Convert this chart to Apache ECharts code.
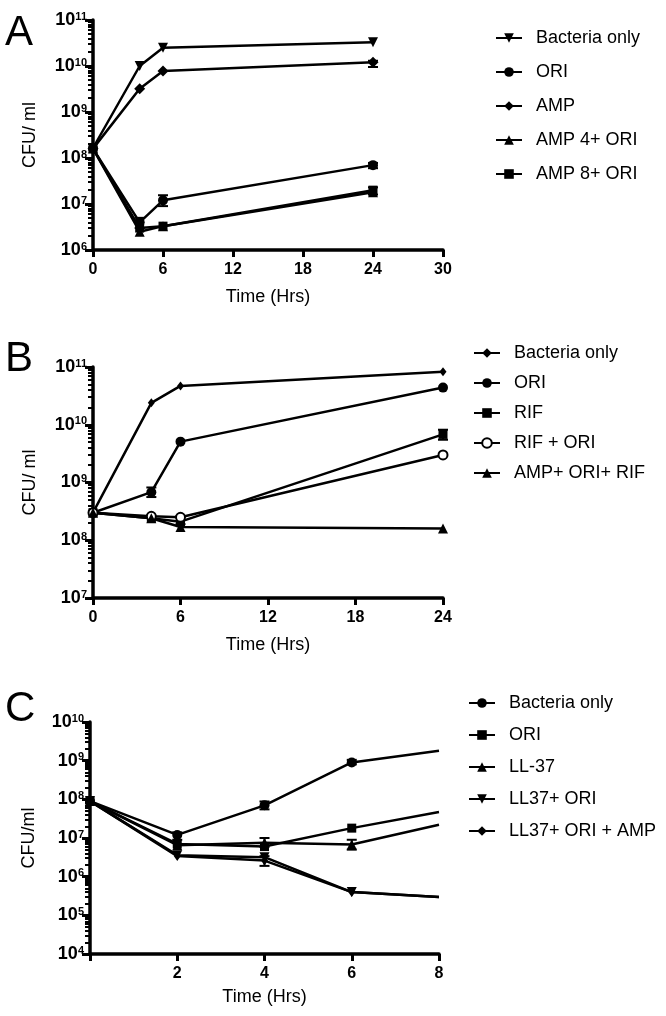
<!DOCTYPE html>
<html>
<head>
<meta charset="utf-8">
<script src="https://cdn.jsdelivr.net/npm/echarts@6/dist/echarts.min.js"></script>
<style>
  body { margin: 0; background: #fff; }
  .panel { position: absolute; left: 0; width: 666px; }
</style>
</head>
<body>
<div id="panelA" class="panel" style="top:0;height:320px"></div>
<div id="panelB" class="panel" style="top:320px;height:340px"></div>
<div id="panelC" class="panel" style="top:660px;height:356px"></div>
<script>
// ---- Panel A ----
const timesA = [0, 4, 6, 24];
const namesA = ["Bacteria only", "ORI", "AMP", "AMP 4+ ORI", "AMP 8+ ORI"];
const bacteriaA = [1.65e8, 1.0e10, 2.5e10, 3.3e10];
const oriA = [1.6e8, 4.0e6, 1.2e7, 7.0e7];
const ampA = [1.6e8, 3.2e9, 7.8e9, 1.2e10];
const amp4OriA = [1.6e8, 2.5e6, 3.3e6, 1.8e7];
const amp8OriA = [1.6e8, 3.0e6, 3.3e6, 2.0e7];
// error bars: [time, low, high]
const errA = [[4, 3.0e6, 5.0e6], [6, 0.9e7, 1.55e7], [24, 0.95e10, 1.3e10], [24, 6.0e7, 7.8e7], [24, 1.6e7, 2.3e7]];

// ---- Panel B ----
const timesB = [0, 4, 6, 24];
const namesB = ["Bacteria only", "ORI", "RIF", "RIF + ORI", "AMP+ ORI+ RIF"];
const bacteriaB = [3.0e8, 2.4e10, 4.7e10, 8.3e10];
const oriB = [3.0e8, 6.8e8, 5.1e9, 4.4e10];
const rifB = [3.0e8, 2.4e8, 2.1e8, 6.8e9];
const rifOriB = [3.0e8, 2.6e8, 2.5e8, 3.0e9];
const ampOriRifB = [3.0e8, 2.4e8, 1.7e8, 1.6e8];
const errB = [[4, 5.6e8, 8.2e8], [24, 5.5e9, 8.2e9], [6, 1.9e8, 2.6e8]];

// ---- Panel C ----
const timesC = [0, 2, 4, 6, 8];
const namesC = ["Bacteria only", "ORI", "LL-37", "LL37+ ORI", "LL37+ ORI + AMP"];
const bacteriaC = [9.0e7, 1.2e7, 7.0e7, 9.0e8, 1.8e9];
const oriC = [9.0e7, 7.0e6, 6.0e6, 1.8e7, 4.7e7];
const ll37C = [9.0e7, 6.5e6, 7.5e6, 6.8e6, 2.2e7];
const ll37OriC = [9.0e7, 3.6e6, 3.2e6, 4.0e5, 3.0e5];
const ll37OriAmpC = [9.0e7, 3.4e6, 2.6e6, 4.0e5, 3.0e5];
const errC = [[2, 0.9e7, 1.4e7], [4, 5.5e7, 8.8e7], [6, 8.0e8, 1.05e9], [6, 5.0e6, 9.0e6], [4, 1.9e6, 3.4e6], [4, 6.0e6, 1.0e7]];

const FONT = '"Liberation Sans", Arial, sans-serif';

// log minor tick positions (2..9 x each decade)
function logMinors(min, max) {
  const out = [];
  for (let d = min; d < max; d *= 10) {
    for (let k = 2; k <= 9; k++) out.push(d * k);
  }
  return out;
}

function lineSeries(name, times, vals, symbol, size, opts) {
  opts = opts || {};
  const last = times.length - 1;
  return {
    type: 'line',
    name: name,
    data: times.map((t, i) => (opts.noLastSymbol && i === last)
      ? { value: [t, vals[i]], symbol: 'none' }
      : [t, vals[i]]),
    symbol: symbol,
    symbolSize: size,
    symbolRotate: opts.rotate || 0,
    showAllSymbol: true,
    lineStyle: { color: '#000', width: 2.5 },
    itemStyle: { color: '#000', borderColor: '#000', borderWidth: symbol === 'emptyCircle' ? 1.5 : 0 },
    emphasis: { disabled: true }
  };
}

function errorSeries(err) {
  return {
    type: 'custom',
    data: err,
    silent: true,
    encode: { x: 0, y: [1, 2] },
    renderItem: function (params, api) {
      const t = api.value(0);
      const lo = api.coord([t, api.value(1)]);
      const hi = api.coord([t, api.value(2)]);
      const st = { stroke: '#000', lineWidth: 2 };
      return {
        type: 'group',
        children: [
          { type: 'line', shape: { x1: lo[0], y1: lo[1], x2: hi[0], y2: hi[1] }, style: st },
          { type: 'line', shape: { x1: lo[0] - 5, y1: lo[1], x2: lo[0] + 5, y2: lo[1] }, style: st },
          { type: 'line', shape: { x1: hi[0] - 5, y1: hi[1], x2: hi[0] + 5, y2: hi[1] }, style: st }
        ]
      };
    }
  };
}

function buildOption(p) {
  return {
    animation: false,
    textStyle: { fontFamily: FONT },
    title: {
      text: p.letter, left: 0, top: p.letterTop,
      textStyle: { fontSize: 42, fontWeight: 'normal', color: '#000', fontFamily: FONT }
    },
    grid: { left: p.grid[0], top: p.grid[1], width: p.grid[2], height: p.grid[3] },
    legend: {
      orient: 'vertical', left: p.legend[0], top: p.legend[1], itemGap: p.legend[2],
      padding: 0, itemWidth: 26, itemHeight: 12,
      textStyle: { fontSize: 18, color: '#000', fontFamily: FONT, padding: [0, 0, 0, 9] },
      selectedMode: false,
      data: p.names
    },
    xAxis: {
      type: 'value', min: 0, max: p.xMax, interval: p.xInterval,
      axisLine: { onZero: false, lineStyle: { color: '#000', width: 3.5 } },
      axisTick: { length: 7, lineStyle: { color: '#000', width: 3 } },
      splitLine: { show: false },
      axisLabel: {
        fontSize: 16, fontWeight: 'bold', color: '#000', margin: 12, fontFamily: FONT,
        formatter: v => (p.hideZero && v === 0) ? '' : String(v)
      },
      name: 'Time (Hrs)', nameLocation: 'middle', nameGap: p.xNameGap,
      nameTextStyle: { fontSize: 18, color: '#000', fontFamily: FONT }
    },
    yAxis: [{
      type: 'log', logBase: 10, min: p.yMin, max: p.yMax,
      axisLine: { show: true, onZero: false, lineStyle: { color: '#000', width: 3.5 } },
      axisTick: { show: true, length: 8, lineStyle: { color: '#000', width: 3 } },
      splitLine: { show: false },
      axisLabel: {
        margin: 6,
        formatter: v => '{b|10}{s|' + Math.round(Math.log10(v)) + '}',
        rich: {
          b: { fontSize: 18, fontWeight: 'bold', color: '#000', fontFamily: FONT, verticalAlign: 'bottom' },
          s: { fontSize: 11, fontWeight: 'bold', color: '#000', fontFamily: FONT, verticalAlign: 'top', lineHeight: 11 }
        }
      },
      name: p.yName, nameLocation: 'middle', nameGap: p.yNameGap, nameRotate: 90,
      nameTextStyle: { fontSize: 18, color: '#000', fontFamily: FONT }
    }, {
      // minor log ticks only
      type: 'log', logBase: 10, min: p.yMin, max: p.yMax, position: 'left',
      axisLine: { show: false },
      axisLabel: { show: false },
      splitLine: { show: false },
      axisTick: { show: true, length: 5, customValues: logMinors(p.yMin, p.yMax), lineStyle: { color: '#000', width: 2 } }
    }],
    series: p.series
  };
}

const chartA = echarts.init(document.getElementById('panelA'));
chartA.setOption(buildOption({
  letter: 'A', letterTop: 7,
  grid: [93, 20, 350, 230],
  legend: [495, 29, 16],
  names: namesA,
  xMax: 30, xInterval: 6, xNameGap: 38,
  yMin: 1e6, yMax: 1e11, yName: 'CFU/ ml', yNameGap: 54,
  series: [
    lineSeries(namesA[0], timesA, bacteriaA, 'triangle', 10, { rotate: 180 }),
    lineSeries(namesA[1], timesA, oriA, 'circle', 10),
    lineSeries(namesA[2], timesA, ampA, 'diamond', 11),
    lineSeries(namesA[3], timesA, amp4OriA, 'triangle', 10),
    lineSeries(namesA[4], timesA, amp8OriA, 'rect', 9),
    errorSeries(errA)
  ]
}));

const chartB = echarts.init(document.getElementById('panelB'));
chartB.setOption(buildOption({
  letter: 'B', letterTop: 13,
  grid: [93, 47, 350, 231],
  legend: [473, 24, 12],
  names: namesB,
  xMax: 24, xInterval: 6, xNameGap: 38,
  yMin: 1e7, yMax: 1e11, yName: 'CFU/ ml', yNameGap: 54,
  series: [
    lineSeries(namesB[0], timesB, bacteriaB, 'diamond', [7, 9]),
    lineSeries(namesB[1], timesB, oriB, 'circle', 10),
    lineSeries(namesB[2], timesB, rifB, 'rect', 9),
    lineSeries(namesB[3], timesB, rifOriB, 'emptyCircle', 9),
    lineSeries(namesB[4], timesB, ampOriRifB, 'triangle', 10),
    errorSeries(errB)
  ]
}));

const chartC = echarts.init(document.getElementById('panelC'));
chartC.setOption(buildOption({
  letter: 'C', letterTop: 23,
  grid: [90, 62, 349, 232],
  legend: [468, 34, 14],
  names: namesC,
  xMax: 8, xInterval: 2, xNameGap: 34, hideZero: true,
  yMin: 1e4, yMax: 1e10, yName: 'CFU/ml', yNameGap: 52,
  series: [
    lineSeries(namesC[0], timesC, bacteriaC, 'circle', 10, { noLastSymbol: true }),
    lineSeries(namesC[1], timesC, oriC, 'rect', 9, { noLastSymbol: true }),
    lineSeries(namesC[2], timesC, ll37C, 'triangle', 10, { noLastSymbol: true }),
    lineSeries(namesC[3], timesC, ll37OriC, 'triangle', 10, { rotate: 180, noLastSymbol: true }),
    lineSeries(namesC[4], timesC, ll37OriAmpC, 'diamond', [7, 10], { noLastSymbol: true }),
    errorSeries(errC)
  ]
}));
</script>
</body>
</html>
